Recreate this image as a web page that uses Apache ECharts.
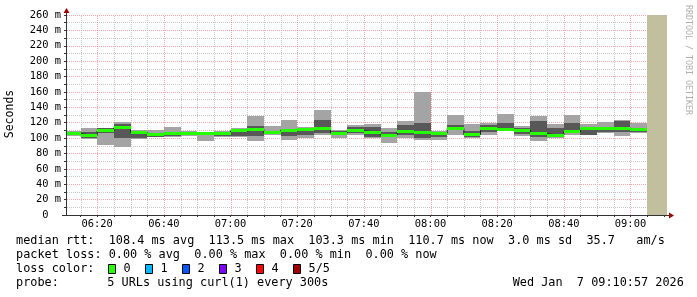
<!DOCTYPE html>
<html><head><meta charset="utf-8">
<script src="https://cdn.jsdelivr.net/npm/echarts@6/dist/echarts.min.js"></script>
<style>html,body{margin:0;padding:0;background:#fff}#c{width:697px;height:297px}</style>
</head><body><div id="c"></div>
<script>
// ---- data (5-minute bars, each with 5 sorted ping values) ----
const barStarts = ['06:10','06:15','06:20','06:25','06:30','06:35','06:40','06:45','06:50','06:55',
  '07:00','07:05','07:10','07:15','07:20','07:25','07:30','07:35','07:40','07:45',
  '07:50','07:55','08:00','08:05','08:10','08:15','08:20','08:25','08:30','08:35',
  '08:40','08:45','08:50','08:55','09:00'];
const pingMin    = [102.5, 98.5, 91.5, 88, 98.5, 101, 101.5, 102.5, 96.5, 101.5,
  102, 96, 104, 97, 99.5, 104.5, 99.5, 104.5, 100, 93,
  100, 97, 97, 103.5, 100, 103.5, 109.5, 102.5, 96, 99.5,
  104.5, 104, 106, 102.5, 106.5];
const pingLow    = [104, 100.5, 106, 100.5, 99.5, 102, 103, 104, 104, 102.5,
  103, 102.5, 105, 103, 104.5, 107, 104, 106, 101.5, 101,
  104, 100, 101, 110, 101.5, 108, 110, 105, 102, 101,
  106, 104.5, 108.5, 108, 107.5];
const pingMedian = [105.5, 103.5, 109.5, 113.5, 107.5, 104.5, 105.5, 106, 105.5, 106.5,
  109.5, 111.5, 107, 110, 111, 113, 106.5, 109.5, 107.5, 104,
  108, 107.5, 106.5, 112.5, 104.5, 112, 111, 110.5, 105.5, 103.5,
  108, 112.5, 112.5, 112.5, 110.7];
const pingHigh   = [108.5, 108, 112.5, 118.5, 109.5, 107, 107, 108, 107, 108.5,
  112, 115.5, 109, 111, 112.5, 123, 109.5, 114, 115, 108,
  117, 120, 108, 117, 109, 117, 120, 113, 122, 112.5,
  119, 114, 114, 122, 113];
const pingMax    = [109.5, 112.5, 113.5, 120.5, 111, 111, 114, 108.8, 108.5, 109.5,
  113, 128.5, 116, 123, 114.5, 137, 111, 117.5, 118, 112.5,
  122, 160, 109, 130, 118, 119, 131, 116, 128.5, 118.5,
  130.5, 118.5, 120.5, 124, 119];

const windowStart = '06:10:57';
const windowEnd = '09:10:57';
const unknownStart = '09:05';
const xLabelTimes = ['06:20','06:40','07:00','07:20','07:40','08:00','08:20','08:40','09:00'];
const yMax = 260, yStep = 20;

const lossLabels = ['0','1','2','3','4','5/5'];
const lossColors = ['#26ff00','#00b8ff','#0059ff','#7e00ff','#ff0000','#a10000'];

const legendLines = [
  'median rtt:  108.4 ms avg  113.5 ms max  103.3 ms min  110.7 ms now  3.0 ms sd  35.7   am/s',
  'packet loss: 0.00 % avg  0.00 % max  0.00 % min  0.00 % now'
];
const probeLabel = 'probe:';
const probeText = '5 URLs using curl(1) every 300s';
const dateText = 'Wed Jan  7 09:10:57 2026';

// ---- helpers ----
function toMin(s){ const p=s.split(':').map(Number); return p[0]*60+p[1]+(p[2]||0)/60; }
function fmt(m){ m=Math.round(m); const h=Math.floor(m/60), mm=m%60; return String(h).padStart(2,'0')+':'+String(mm).padStart(2,'0'); }

const xMin = toMin(windowStart), xMax = toMin(windowEnd);
const labelVals = xLabelTimes.map(toMin);
const tickVals = [];
for (let m = Math.ceil(xMin/5)*5; m <= xMax; m += 5) tickVals.push(m);

const smokeData = barStarts.map((t,i)=>[toMin(t), toMin(t)+5, pingMin[i], pingLow[i], pingMedian[i], pingHigh[i], pingMax[i]]);
const medianLine = barStarts.map((t,i)=>[toMin(t), pingMedian[i]]);
medianLine.push([toMin(barStarts[barStarts.length-1])+5, pingMedian[pingMedian.length-1]]);
const vgridData = tickVals.map(m=>[m, (Math.round(m)%20===0)?1:0]);

const FONT = 'DejaVu Sans Mono';
const chart = echarts.init(document.getElementById('c'), null, {renderer:'canvas'});

const graphics = [];
// axes lines + arrows
graphics.push({type:'line', shape:{x1:66.5,y1:216,x2:66.5,y2:11}, style:{stroke:'#333',lineWidth:1}, z:100});
graphics.push({type:'polygon', shape:{points:[[66.5,8],[63.5,13],[69.5,13]]}, style:{fill:'#a00000'}, z:100});
graphics.push({type:'line', shape:{x1:62,y1:215.5,x2:669,y2:215.5}, style:{stroke:'#333',lineWidth:1}, z:100});
graphics.push({type:'polygon', shape:{points:[[674,215.5],[669,212.5],[669,218.5]]}, style:{fill:'#a00000'}, z:100});
// titles
graphics.push({type:'text', x:10.5, y:114, rotation:Math.PI/2, style:{text:'Seconds', fontFamily:FONT, fontSize:11.5, fill:'#000', align:'center', verticalAlign:'middle'}});
graphics.push({type:'text', x:688, y:60, rotation:-Math.PI/2, style:{text:'RRDTOOL / TOBI OETIKER', fontFamily:FONT, fontSize:8.3, fill:'#b0b0b0', align:'center', verticalAlign:'middle'}});
// legend
const LF = 11.85, lx = 16, rows = [241.3, 255.3, 269.3, 283.3];
legendLines.forEach((t,i)=>graphics.push({type:'text', x:lx, y:rows[i], style:{text:t, fontFamily:FONT, fontSize:LF, fill:'#000', verticalAlign:'middle'}}));
graphics.push({type:'text', x:lx, y:rows[2], style:{text:'loss color:', fontFamily:FONT, fontSize:LF, fill:'#000', verticalAlign:'middle'}});
lossLabels.forEach((l,i)=>{
  const bx = 108.5 + i*37;
  graphics.push({type:'rect', shape:{x:bx, y:264.5, width:7, height:9}, style:{fill:lossColors[i], stroke:'#000', lineWidth:1}});
  graphics.push({type:'text', x:bx+15, y:rows[2], style:{text:l, fontFamily:FONT, fontSize:LF, fill:'#000', verticalAlign:'middle'}});
});
graphics.push({type:'text', x:lx, y:rows[3], style:{text:probeLabel, fontFamily:FONT, fontSize:LF, fill:'#000', verticalAlign:'middle'}});
graphics.push({type:'text', x:107.3, y:rows[3], style:{text:probeText, fontFamily:FONT, fontSize:LF, fill:'#000', verticalAlign:'middle'}});
graphics.push({type:'text', x:512.7, y:rows[3], style:{text:dateText, fontFamily:FONT, fontSize:LF, fill:'#000', verticalAlign:'middle'}});

const option = {
  animation:false,
  backgroundColor:'#fff',
  grid:{left:67, right:30, top:15, bottom:82},
  xAxis:{
    type:'value', min:xMin, max:xMax,
    axisLine:{show:false},
    axisTick:{show:true, customValues:tickVals, length:2, lineStyle:{color:'#333'}},
    axisLabel:{show:true, customValues:labelVals, formatter:v=>fmt(v), fontFamily:FONT, fontSize:10.4, color:'#000', margin:4},
    splitLine:{show:false}
  },
  yAxis:{
    type:'value', min:0, max:yMax, interval:yStep,
    axisLine:{show:false},
    axisTick:{show:true, length:3, lineStyle:{color:'#333'}},
    minorTick:{show:true, splitNumber:2, length:3, lineStyle:{color:'#333'}},
    axisLabel:{formatter:v=>v===0?'0  ':v+' m', fontFamily:FONT, fontSize:10.4, color:'#000', margin:6},
    splitLine:{show:true, lineStyle:{color:'rgba(235,60,60,0.45)', type:[1,1], width:1}},
    minorSplitLine:{show:true, lineStyle:{color:'#c8c8c8', type:[1,1], width:1}}
  },
  series:[
    {type:'custom', name:'vgrid', z:1, silent:true, data:vgridData, encode:{x:0},
      renderItem:(params,api)=>{
        const p0=api.coord([api.value(0),0]), p1=api.coord([api.value(0),yMax]);
        const x=Math.round(p0[0])+0.5;
        return {type:'line', shape:{x1:x,y1:p0[1],x2:x,y2:p1[1]},
          style:{stroke:api.value(1)?'rgba(235,60,60,0.45)':'#c8c8c8', lineWidth:1, lineDash:[1,1]}};
      }},
    {type:'custom', name:'smoke', z:3, clip:true, data:smokeData, encode:{x:[0,1], y:[2,6]},
      renderItem:(params,api)=>{
        const x0=Math.round(api.coord([api.value(0),0])[0]);
        const x1=Math.round(api.coord([api.value(1),0])[0]);
        const y=v=>Math.round(api.coord([api.value(0),v])[1]);
        const yMinP=y(api.value(2)), yLow=y(api.value(3)), yHigh=y(api.value(5)), yMaxP=y(api.value(6));
        return {type:'group', children:[
          {type:'rect', shape:{x:x0,y:yMaxP,width:x1-x0,height:Math.max(1,yMinP-yMaxP)}, style:{fill:'#a4a4a4'}},
          {type:'rect', shape:{x:x0,y:yHigh,width:x1-x0,height:Math.max(1,yLow-yHigh)}, style:{fill:'#585858'}}
        ]};
      }},
    {type:'line', name:'median', z:4, data:medianLine, step:'end', symbol:'none', clip:true,
      lineStyle:{color:'#202020', width:1}},
    {type:'custom', name:'medianBand', z:5, clip:true, data:smokeData, encode:{x:[0,1], y:4},
      renderItem:(params,api)=>{
        const x0=Math.round(api.coord([api.value(0),0])[0]);
        const x1=Math.round(api.coord([api.value(1),0])[0]);
        const ym=api.coord([api.value(0),api.value(4)])[1];
        return {type:'rect', shape:{x:x0,y:Math.round(ym-1.5),width:x1-x0,height:3}, style:{fill:lossColors[0]}};
      }},
    {type:'custom', name:'unknown', z:6, clip:true, data:[[toMin(unknownStart), xMax]], encode:{x:[0,1]},
      renderItem:(params,api)=>{
        const a=api.coord([api.value(0),yMax]), b=api.coord([api.value(1),0]);
        const x0=Math.round(a[0]);
        return {type:'rect', shape:{x:x0,y:a[1],width:b[0]-x0,height:b[1]-a[1]}, style:{fill:'#c2bf9f'}};
      }}
  ],
  graphic:graphics
};
chart.setOption(option);
</script></body></html>
